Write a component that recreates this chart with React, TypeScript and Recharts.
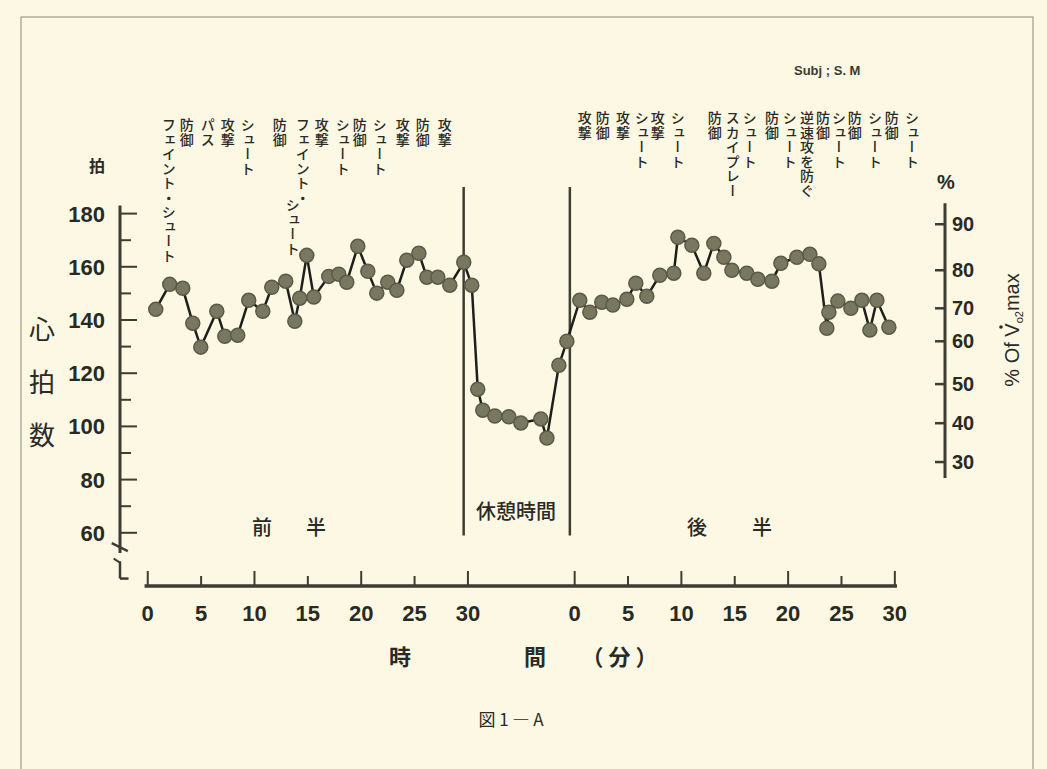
import React from 'react';
import { ComposedChart, Line, XAxis, YAxis, ReferenceLine } from 'recharts';

// ---- data (minutes, heart rate in beats/min) ----
const HALF_START = 0;
const REST_START = 30;
const SECOND_START = 40;

const firstHalfMin = [0.75, 2.06, 3.28, 4.22, 4.97, 6.47, 7.22, 8.43, 9.46, 10.78, 11.62, 12.93, 13.78, 14.24, 14.9, 15.56, 16.96, 17.9, 18.65, 19.68, 20.62, 21.46, 22.49, 23.34, 24.27, 25.4, 26.15, 27.18, 28.3, 29.61, 30.36];
const firstHalfHR = [144.0, 153.4, 151.9, 138.8, 129.8, 143.3, 133.9, 134.3, 147.4, 143.3, 152.3, 154.6, 139.5, 148.2, 164.3, 148.6, 156.4, 157.2, 154.2, 167.7, 158.3, 150.1, 154.2, 151.2, 162.5, 165.1, 156.1, 156.1, 153.1, 161.7, 153.1];

const restMin = [0.92, 1.39, 2.52, 3.83, 4.96, 6.83, 7.4, 8.52, 9.27];
const restHR = [114.0, 106.1, 103.9, 103.6, 101.3, 102.8, 95.6, 123.0, 132.0];

const secondHalfMin = [0.48, 1.42, 2.54, 3.58, 4.89, 5.73, 6.76, 7.98, 9.29, 9.67, 10.98, 12.1, 13.04, 13.98, 14.73, 16.13, 17.16, 18.48, 19.32, 20.82, 22.04, 22.88, 23.63, 23.82, 24.66, 25.88, 26.91, 27.66, 28.32, 29.44];
const secondHalfHR = [147.4, 142.9, 146.7, 145.6, 147.8, 153.8, 148.9, 156.8, 157.6, 171.1, 168.1, 157.6, 168.8, 163.6, 158.7, 157.6, 155.3, 154.6, 161.3, 163.6, 164.7, 161.1, 136.9, 142.9, 147.1, 144.4, 147.4, 136.2, 147.4, 137.3];

// axis ticks
const hrMajorTicks = [60, 80, 100, 120, 140, 160, 180];
const hrMinorTicks = [70, 90, 110, 130, 150, 170];
const minuteTicks = [0, 5, 10, 15, 20, 25, 30];
const pctLabels = [90, 80, 70, 60, 50, 40, 30];
const pctHR = [176.0, 158.7, 144.4, 132.0, 115.9, 101.2, 86.6];

// play annotations (minute within half, text, start offset in character cells)
const firstAnnotMin = [1.97, 3.65, 5.62, 7.5, 9.37, 12.37, 14.53, 13.59, 16.31, 18.27, 19.87, 21.74, 23.9, 25.77, 27.83];
const firstAnnotText = ['フェイント・シュート', '防御', 'パス', '攻撃', 'シュート', '防御', 'フェイント・', 'シュート', '攻撃', 'シュート', '防御', 'シュート', '攻撃', '防御', '攻撃'];
const firstAnnotIndent = [0, 0, 0, 0, 0, 0, 0, 5.5, 0, 0, 0, 0, 0, 0, 0];
const secondAnnotMin = [0.95, 2.64, 4.52, 6.29, 7.79, 9.67, 13.13, 14.82, 16.41, 18.48, 20.16, 21.76, 23.26, 24.76, 26.25, 28.13, 29.72, 31.6];
const secondAnnotText = ['攻撃', '防御', '攻撃', 'シュート', '攻撃', 'シュート', '防御', 'スカイプレー', 'シュート', '防御', 'シュート', '逆速攻を防ぐ', '防御', 'シュート', '防御', 'シュート', '防御', 'シュート'];

// ---- build table ----
const data = [
  ...firstHalfMin.map((m, i) => ({ t: HALF_START + m, hr: firstHalfHR[i] })),
  ...restMin.map((m, i) => ({ t: REST_START + m, hr: restHR[i] })),
  ...secondHalfMin.map((m, i) => ({ t: SECOND_START + m, hr: secondHalfHR[i] })),
];
const xTicks = [...minuteTicks.map((m) => HALF_START + m), ...minuteTicks.map((m) => SECOND_START + m)];
const leftTicks = [...hrMajorTicks, ...hrMinorTicks].sort((a, b) => a - b);
const annots = [
  ...firstAnnotMin.map((m, i) => ({ t: HALF_START + m, text: firstAnnotText[i], indent: firstAnnotIndent[i], half: 1 })),
  ...secondAnnotMin.map((m, i) => ({ t: SECOND_START + m, text: secondAnnotText[i], indent: 0, half: 2 })),
];

// ---- style ----
const W = 1047;
const H = 769;
const BG = '#fcf8e3';
const INK = '#2a2a24';
const AXIS = '#3d3d32';
const NUM_FONT = "'Liberation Sans', Arial, sans-serif";
const JP_FONT = "'Noto Sans CJK JP', 'Noto Sans CJK SC', sans-serif";
const X_MIN = -2.6;
const X_MAX = 74.7;
const Y_MIN = 40;
const Y_MAX = 190;

const LeftTick = (props: any) => {
  const { x, y, payload } = props;
  const v = payload.value;
  const major = v % 20 === 0;
  return (
    <g>
      <line x1={x} x2={x + (major ? 17 : 11)} y1={y} y2={y} stroke={AXIS} strokeWidth={2} />
      {major && (
        <text x={x - 15} y={y} dy="0.36em" textAnchor="end" fontFamily={NUM_FONT} fontWeight="bold" fontSize={22} fill={INK}>
          {v}
        </text>
      )}
    </g>
  );
};

const RightTick = (props: any) => {
  const { x, y, payload } = props;
  const i = pctHR.indexOf(payload.value);
  return (
    <g>
      <line x1={x - 10} x2={x + 1} y1={y} y2={y} stroke={AXIS} strokeWidth={2.5} />
      <text x={x + 7} y={y} dy="0.36em" textAnchor="start" fontFamily={NUM_FONT} fontWeight="bold" fontSize={20} fill={INK}>
        {i >= 0 ? pctLabels[i] : ''}
      </text>
    </g>
  );
};

const BottomTick = (props: any) => {
  const { x, y, payload } = props;
  const v = payload.value;
  const label = v >= SECOND_START ? v - SECOND_START : v - HALF_START;
  const major = label % 10 === 0;
  return (
    <g>
      <line x1={x} x2={x} y1={y} y2={y - (major ? 15 : 10)} stroke={AXIS} strokeWidth={2} />
      <text x={x} y={y + 27} textAnchor="middle" dy="0.36em" fontFamily={NUM_FONT} fontWeight="bold" fontSize={22} fill={INK}>
        {label}
      </text>
    </g>
  );
};

const annotLabel = (a: { text: string; indent: number; half: number }) => (p: any) => {
  const vb = p.viewBox || {};
  const top = (a.half === 1 ? 118 : 111) + a.indent * 14.5;
  return (
    <text
      x={vb.x}
      y={top}
      fontFamily={JP_FONT}
      fontSize={14}
      fontWeight={500}
      fill={INK}
      letterSpacing={0.5}
      style={{ writingMode: 'vertical-rl' as any }}
    >
      {a.text}
    </text>
  );
};

const seg = (x1: number, y1: number, x2: number, y2: number, w: number, key: string) => (
  <ReferenceLine
    key={key}
    yAxisId="left"
    segment={[{ x: x1, y: y1 }, { x: x2, y: y2 }]}
    stroke={AXIS}
    strokeWidth={w}
    ifOverflow="visible"
  />
);

export default function App() {
  return (
    <div style={{ position: 'absolute', left: 0, top: 0, width: W, height: H, background: BG, overflow: 'hidden' }}>
      <svg width={W} height={H} style={{ position: 'absolute', left: 0, top: 0 }}>
        <rect x={21} y={17} width={1012} height={760} fill="none" stroke="#a29b80" strokeWidth={1.2} />
        <text x={794} y={75} fontFamily={NUM_FONT} fontWeight="bold" fontSize={13} fill="#3a3a32">Subj ; S. M</text>
        <text x={97} y={172} textAnchor="middle" fontFamily={JP_FONT} fontWeight="bold" fontSize={16} fill={INK}>拍</text>
        <text x={946} y={189} textAnchor="middle" fontFamily={NUM_FONT} fontWeight="bold" fontSize={20} fill={INK}>%</text>
        <text x={42} y={316} fontFamily={JP_FONT} fontSize={26} fill={INK} letterSpacing={27} style={{ writingMode: 'vertical-rl' as any }}>心拍数</text>
        <g transform="translate(1019,330) rotate(-90)">
          <text x={0} y={0} textAnchor="middle" fontFamily={NUM_FONT} fontSize={20} fill={INK}>
            % Of V<tspan fontSize={11} dy={4}>o2</tspan><tspan dy={-4}>max</tspan>
          </text>
          <circle cx={3} cy={-18} r={1.8} fill={INK} />
        </g>
        <text x={262} y={535} textAnchor="middle" fontFamily={JP_FONT} fontWeight={500} fontSize={20} fill={INK}>前</text>
        <text x={316} y={535} textAnchor="middle" fontFamily={JP_FONT} fontWeight={500} fontSize={20} fill={INK}>半</text>
        <text x={516} y={519} textAnchor="middle" fontFamily={JP_FONT} fontWeight={500} fontSize={20} fill={INK}>休憩時間</text>
        <text x={697} y={535} textAnchor="middle" fontFamily={JP_FONT} fontWeight={500} fontSize={20} fill={INK}>後</text>
        <text x={762} y={535} textAnchor="middle" fontFamily={JP_FONT} fontWeight={500} fontSize={20} fill={INK}>半</text>
        <text x={400} y={665} textAnchor="middle" fontFamily={JP_FONT} fontWeight="bold" fontSize={22} fill={INK}>時</text>
        <text x={535} y={665} textAnchor="middle" fontFamily={JP_FONT} fontWeight="bold" fontSize={22} fill={INK}>間</text>
        <text x={622} y={665} textAnchor="middle" fontFamily={JP_FONT} fontWeight="bold" fontSize={22} fill={INK} letterSpacing={5}>（分）</text>
        <text x={511} y={726} textAnchor="middle" fontFamily={JP_FONT} fontSize={17} fill={INK}>図 1 ― A</text>
      </svg>
      <div style={{ position: 'absolute', left: 0, top: 0 }}>
        <ComposedChart width={W} height={H} data={data} margin={{ top: 187, right: 42, bottom: 143, left: 60 }}>
          <XAxis
            dataKey="t"
            type="number"
            domain={[X_MIN, X_MAX]}
            allowDataOverflow
            ticks={xTicks}
            interval={0}
            axisLine={false}
            tickLine={false}
            tickSize={0}
            tickMargin={0}
            height={40}
            tick={BottomTick}
          />
          <YAxis
            yAxisId="left"
            type="number"
            domain={[Y_MIN, Y_MAX]}
            allowDataOverflow
            ticks={leftTicks}
            interval={0}
            axisLine={false}
            tickLine={false}
            tickSize={0}
            tickMargin={0}
            width={60}
            tick={LeftTick}
          />
          <YAxis
            yAxisId="right"
            orientation="right"
            type="number"
            domain={[Y_MIN, Y_MAX]}
            allowDataOverflow
            ticks={pctHR}
            interval={0}
            axisLine={false}
            tickLine={false}
            tickSize={0}
            tickMargin={0}
            width={60}
            tick={RightTick}
          />
          {/* axis lines */}
          {seg(X_MIN, 183, X_MIN, 52.4, 3, 'ly')}
          {seg(-3.37, 56.1, -1.87, 53.1, 2.5, 'brk1')}
          {seg(-3.19, 50.3, X_MIN, 48.8, 2, 'brk2')}
          {seg(X_MIN, 49.3, X_MIN, 42.8, 2.5, 'brk3')}
          {seg(X_MIN, 42.8, -1.8, 42.8, 2.5, 'brk4')}
          {seg(-0.3, Y_MIN, 70.2, Y_MIN, 3.5, 'xa')}
          {seg(X_MAX, 183.9, X_MAX, 80.6, 3, 'ry')}
          {/* period dividers */}
          {seg(29.6, Y_MAX, 29.6, 59, 2.5, 'd1')}
          {seg(39.55, Y_MAX, 39.55, 59, 2.5, 'd2')}
          {annots.map((a, i) => (
            <ReferenceLine key={'a' + i} yAxisId="left" x={a.t} stroke="none" ifOverflow="visible" label={annotLabel(a)} />
          ))}
          <Line
            yAxisId="left"
            dataKey="hr"
            type="linear"
            stroke="#1e1e1a"
            strokeWidth={2.5}
            dot={{ r: 7, fill: '#78775f', stroke: '#5b5a47', strokeWidth: 1.5 }}
            isAnimationActive={false}
          />
        </ComposedChart>
      </div>
    </div>
  );
}
